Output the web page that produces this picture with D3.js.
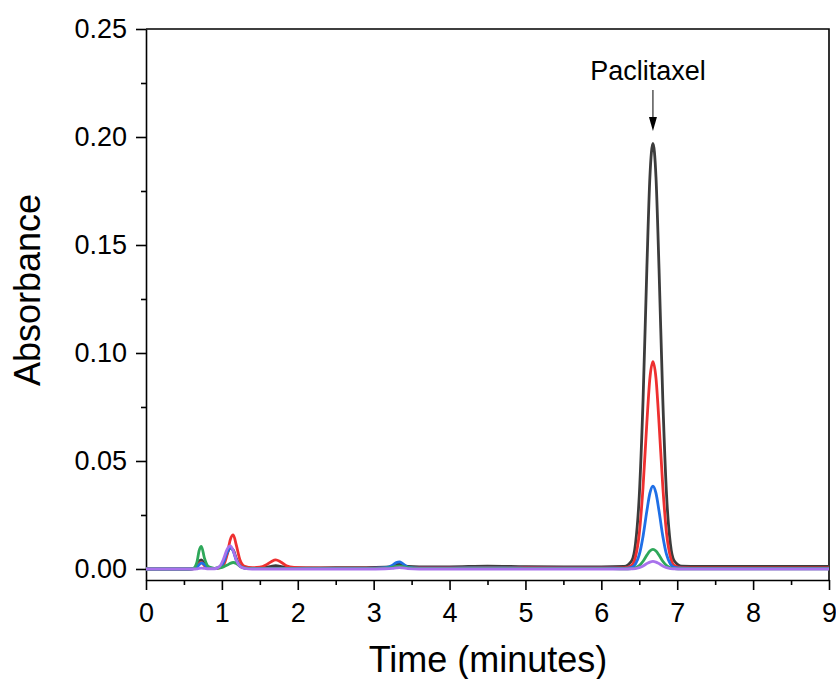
<!DOCTYPE html>
<html lang="en">
<head>
    <meta charset="UTF-8">
    <title>Chromatogram</title>
    <style>
        body { margin: 0; background: #fff; }
        svg { display: block; font-family: "Liberation Sans", Arial, sans-serif; }
        .axis text { font-size: 27px; fill: #000; font-family: "Liberation Sans", Arial, sans-serif; }
        .axis path, .axis line { stroke: #000; stroke-width: 1.6; }
        .trace { fill: none; stroke-width: 2.8; stroke-linejoin: round; }
    </style>
</head>
<body>
    <svg width="836" height="679"></svg>
    <script src="https://cdn.jsdelivr.net/npm/d3@7"></script>
    <script>
        const svg = d3.select("svg");

        // retention times (minutes)
        const times = [0, 0.3, 0.55, 0.62, 0.67, 0.70, 0.73, 0.77, 0.82, 0.9, 0.97, 1.02, 1.07, 1.11, 1.15, 1.19, 1.24, 1.3, 1.4,
            1.5, 1.58, 1.65, 1.71, 1.77, 1.85, 1.95, 2.1, 2.5, 2.9, 3.15, 3.25, 3.3, 3.34, 3.38, 3.45, 3.6, 4.0, 4.5, 5.0, 5.5, 6.0,
            6.3, 6.4, 6.45, 6.5, 6.55, 6.6, 6.64, 6.68, 6.72, 6.76, 6.81, 6.86, 6.91, 6.96, 7.06, 7.3, 7.6, 8.0, 8.5, 9.0];

        const black = [0, 0, 0, 0.0002, 0.0015, 0.0035, 0.0042, 0.0025, 0.0008, 0.0003, 0.0008, 0.003, 0.0072, 0.0098, 0.0088, 0.0048, 0.0015, 0.0005, 0.0003,
            0.0004, 0.0007, 0.0012, 0.0015, 0.0012, 0.0007, 0.0005, 0.0005, 0.0006, 0.0006, 0.0008, 0.0013, 0.002, 0.0022, 0.0018, 0.0012, 0.001, 0.001, 0.0013, 0.0011, 0.001, 0.001,
            0.0012, 0.0038, 0.0116, 0.0339, 0.0784, 0.1393, 0.1815, 0.197, 0.1815, 0.1393, 0.0784, 0.0339, 0.0116, 0.0038, 0.0013, 0.0012, 0.0012, 0.0012, 0.0012, 0.0012];

        const red = [0, 0, 0, 0.0001, 0.001, 0.0025, 0.003, 0.0015, 0.0004, 0.0002, 0.0005, 0.0018, 0.0068, 0.0135, 0.0158, 0.011, 0.004, 0.0012, 0.0006,
            0.0008, 0.0018, 0.0034, 0.0042, 0.0034, 0.0015, 0.0007, 0.0005, 0.0004, 0.0004, 0.0005, 0.0008, 0.0011, 0.0012, 0.001, 0.0006, 0.0005, 0.0005, 0.0007, 0.0006, 0.0005, 0.0005,
            0.0005, 0.0017, 0.0056, 0.0164, 0.0381, 0.0678, 0.0884, 0.096, 0.0884, 0.0678, 0.0381, 0.0164, 0.0056, 0.0017, 0.0006, 0.0005, 0.0005, 0.0005, 0.0005, 0.0005];

        const blue = [0, 0, 0, 0.0001, 0.0008, 0.002, 0.0028, 0.002, 0.0006, 0.0002, 0.0008, 0.003, 0.0078, 0.01, 0.0082, 0.004, 0.0012, 0.0004, 0.0002,
            0.0002, 0.0002, 0.0002, 0.0003, 0.0003, 0.0003, 0.0003, 0.0003, 0.0003, 0.0003, 0.0006, 0.0018, 0.003, 0.0033, 0.0026, 0.0009, 0.0004, 0.0004, 0.0005, 0.0004, 0.0004, 0.0004,
            0.0003, 0.0008, 0.0023, 0.0066, 0.0152, 0.0269, 0.0351, 0.0383, 0.0351, 0.0269, 0.0152, 0.0066, 0.0023, 0.0008, 0.0004, 0.0003, 0.0003, 0.0003, 0.0003, 0.0003];

        const green = [0, 0, 0, 0.0002, 0.003, 0.0085, 0.0105, 0.005, 0.0012, 0.0003, 0.0005, 0.001, 0.0018, 0.0026, 0.003, 0.0025, 0.0012, 0.0004, 0.0002,
            0.0002, 0.0002, 0.0002, 0.0002, 0.0002, 0.0002, 0.0002, 0.0002, 0.0002, 0.0002, 0.0004, 0.0008, 0.0012, 0.0013, 0.0011, 0.0006, 0.0003, 0.0003, 0.0004, 0.0003, 0.0003, 0.0003,
            0.0001, 0.0002, 0.0006, 0.0016, 0.0036, 0.0064, 0.0083, 0.0091, 0.0083, 0.0064, 0.0036, 0.0016, 0.0006, 0.0002, 0.0001, 0.0001, 0.0001, 0.0001, 0.0001, 0.0001];

        const purple = [0, 0, 0, 0, 0.0001, 0.0003, 0.0004, 0.0003, 0.0001, 0.0001, 0.0012, 0.0045, 0.0092, 0.0107, 0.0085, 0.0042, 0.0012, 0.0003, 0,
            0, 0, 0, 0, 0, 0, 0, 0, 0, 0, 0.0001, 0.0003, 0.0005, 0.0006, 0.0005, 0.0002, 0, 0, 0, 0, 0, 0,
            0, 0.0001, 0.0002, 0.0006, 0.0014, 0.0025, 0.0032, 0.0035, 0.0032, 0.0025, 0.0014, 0.0006, 0.0002, 0.0001, 0, 0, 0, 0, 0, 0];

        const seriesValues = [black, red, blue, green, purple];
        const seriesColors = ["#3c3c3c", "#ee3030", "#1f6fe6", "#2ea85a", "#a872ec"];

        const xTicks = [0, 1, 2, 3, 4, 5, 6, 7, 8, 9];
        const yTicks = [0, 0.05, 0.10, 0.15, 0.20, 0.25];
        const peakLabel = { text: "Paclitaxel", time: 6.68 };

        const mLeft = 146, mRight = 829, mTop = 29, mBottom = 580;

        const x = d3.scaleLinear().domain([0, 9]).range([mLeft, mRight]);
        const y = d3.scaleLinear().domain([-0.0051, 0.25]).range([mBottom, mTop]);

        // frame top / right
        svg.append("path")
            .attr("d", `M${mLeft},${mTop}H${mRight}V${mBottom}`)
            .attr("fill", "none")
            .attr("stroke", "#000")
            .attr("stroke-width", 1.6);

        // minor ticks
        svg.append("g")
            .attr("class", "axis")
            .attr("transform", `translate(0,${mBottom})`)
            .call(d3.axisBottom(x).tickValues(d3.range(0.5, 9, 1)).tickSize(5).tickFormat(""))
            .call(g => g.select(".domain").remove());
        svg.append("g")
            .attr("class", "axis")
            .attr("transform", `translate(${mLeft},0)`)
            .call(d3.axisLeft(y).tickValues(d3.range(0.025, 0.25, 0.05)).tickSize(5).tickFormat(""))
            .call(g => g.select(".domain").remove());

        svg.append("g")
            .attr("class", "axis")
            .attr("transform", `translate(0,${mBottom})`)
            .call(d3.axisBottom(x).tickValues(xTicks).tickSize(10).tickSizeOuter(0).tickPadding(13).tickFormat(d3.format("d")));

        svg.append("g")
            .attr("class", "axis")
            .attr("transform", `translate(${mLeft},0)`)
            .call(d3.axisLeft(y).tickValues(yTicks).tickSize(10).tickSizeOuter(0).tickPadding(9).tickFormat(d3.format(".2f")));

        const line = d3.line()
            .x((d, i) => x(times[i]))
            .y(d => y(d))
            .curve(d3.curveMonotoneX);

        svg.append("g")
            .selectAll("path")
            .data(seriesValues)
            .join("path")
            .attr("class", "trace")
            .attr("stroke", (d, i) => seriesColors[i])
            .attr("d", line);

        // peak annotation
        const px = x(peakLabel.time);
        svg.append("text")
            .attr("x", px - 5)
            .attr("y", 80)
            .attr("text-anchor", "middle")
            .attr("font-size", 27)
            .text(peakLabel.text);
        svg.append("line")
            .attr("x1", px).attr("x2", px)
            .attr("y1", 90).attr("y2", 118)
            .attr("stroke", "#000").attr("stroke-width", 1);
        svg.append("path")
            .attr("d", `M${px - 4},117L${px + 4},117L${px},131Z`)
            .attr("fill", "#000");

        svg.append("text")
            .attr("x", 488)
            .attr("y", 672)
            .attr("text-anchor", "middle")
            .attr("font-size", 36)
            .text("Time (minutes)");

        svg.append("text")
            .attr("transform", `translate(40,290) rotate(-90)`)
            .attr("text-anchor", "middle")
            .attr("font-size", 36)
            .text("Absorbance");
    </script>
</body>
</html>
